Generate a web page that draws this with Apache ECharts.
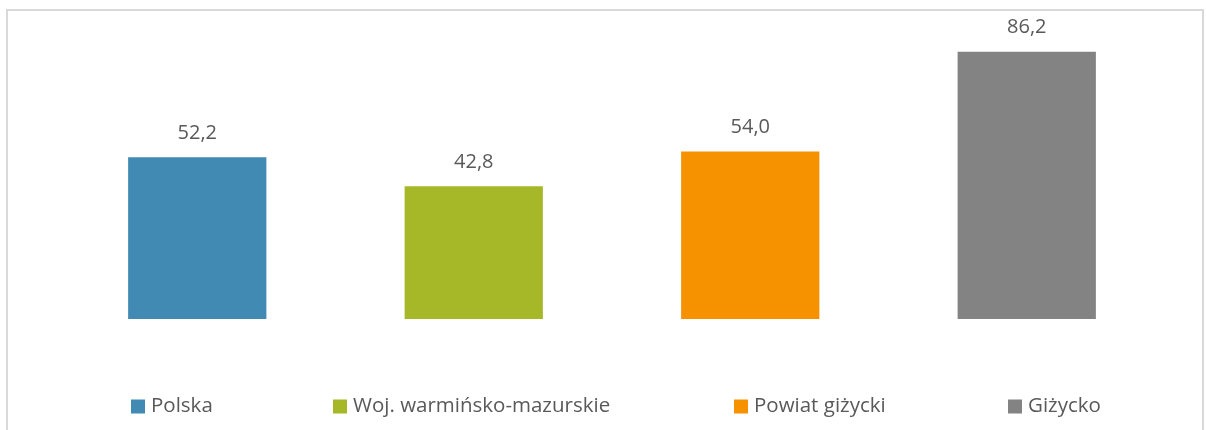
<!DOCTYPE html>
<html>
<head>
<meta charset="utf-8">
<script src="https://cdn.jsdelivr.net/npm/echarts@6/dist/echarts.min.js"></script>
<style>
html, body { margin: 0; padding: 0; background: #fff; }
#chart { width: 1206px; height: 430px; }
</style>
</head>
<body>
<div id="chart"></div>
<script>
const categories = ['Polska', 'Woj. warmińsko-mazurskie', 'Powiat giżycki', 'Giżycko']
const values = [52.2, 42.8, 54.0, 86.2]
const colors = ['#418AB3', '#A6B727', '#F69200', '#838383']
const legendLeft = [131, 333, 734, 1008]

const font = '"Open Sans", "Noto Sans", sans-serif'

let chartDom = echarts.init(document.getElementById('chart'))

const series = categories.map((name, i) => ({
  name: name,
  type: 'bar',
  stack: 'all',
  barWidth: '50%',
  itemStyle: { color: colors[i] },
  data: values.map((v, j) => (j === i ? v : '-')),
  label: {
    show: true,
    position: 'top',
    distance: 14,
    color: '#595959',
    fontSize: 20,
    fontFamily: font,
    formatter: (p) => p.value.toFixed(1).replace('.', ','),
  },
}))

const legends = categories.map((name, i) => ({
  data: [name],
  left: legendLeft[i],
  top: 396,
  padding: 0,
  itemWidth: 14,
  itemHeight: 14,
  icon: 'rect',
  textStyle: { color: '#595959', fontSize: 20.5, fontFamily: font, padding: [0, 0, 0, 1] },
}))

const option = {
  animation: false,
  graphic: [
    {
      type: 'rect',
      shape: { x: 7, y: 10, width: 1196, height: 440 },
      style: { fill: 'none', stroke: '#D9D9D9', lineWidth: 2 },
      silent: true,
    },
  ],
  grid: { left: 59, right: 41, top: 9, bottom: 111 },
  legend: legends,
  xAxis: {
    type: 'category',
    data: categories,
    axisLine: { show: false },
    axisTick: { show: false },
    axisLabel: { show: false },
  },
  yAxis: {
    type: 'value',
    min: 0,
    max: 100,
    show: false,
    splitLine: { show: false },
  },
  series: series,
}

chartDom.setOption(option)
</script>
</body>
</html>
